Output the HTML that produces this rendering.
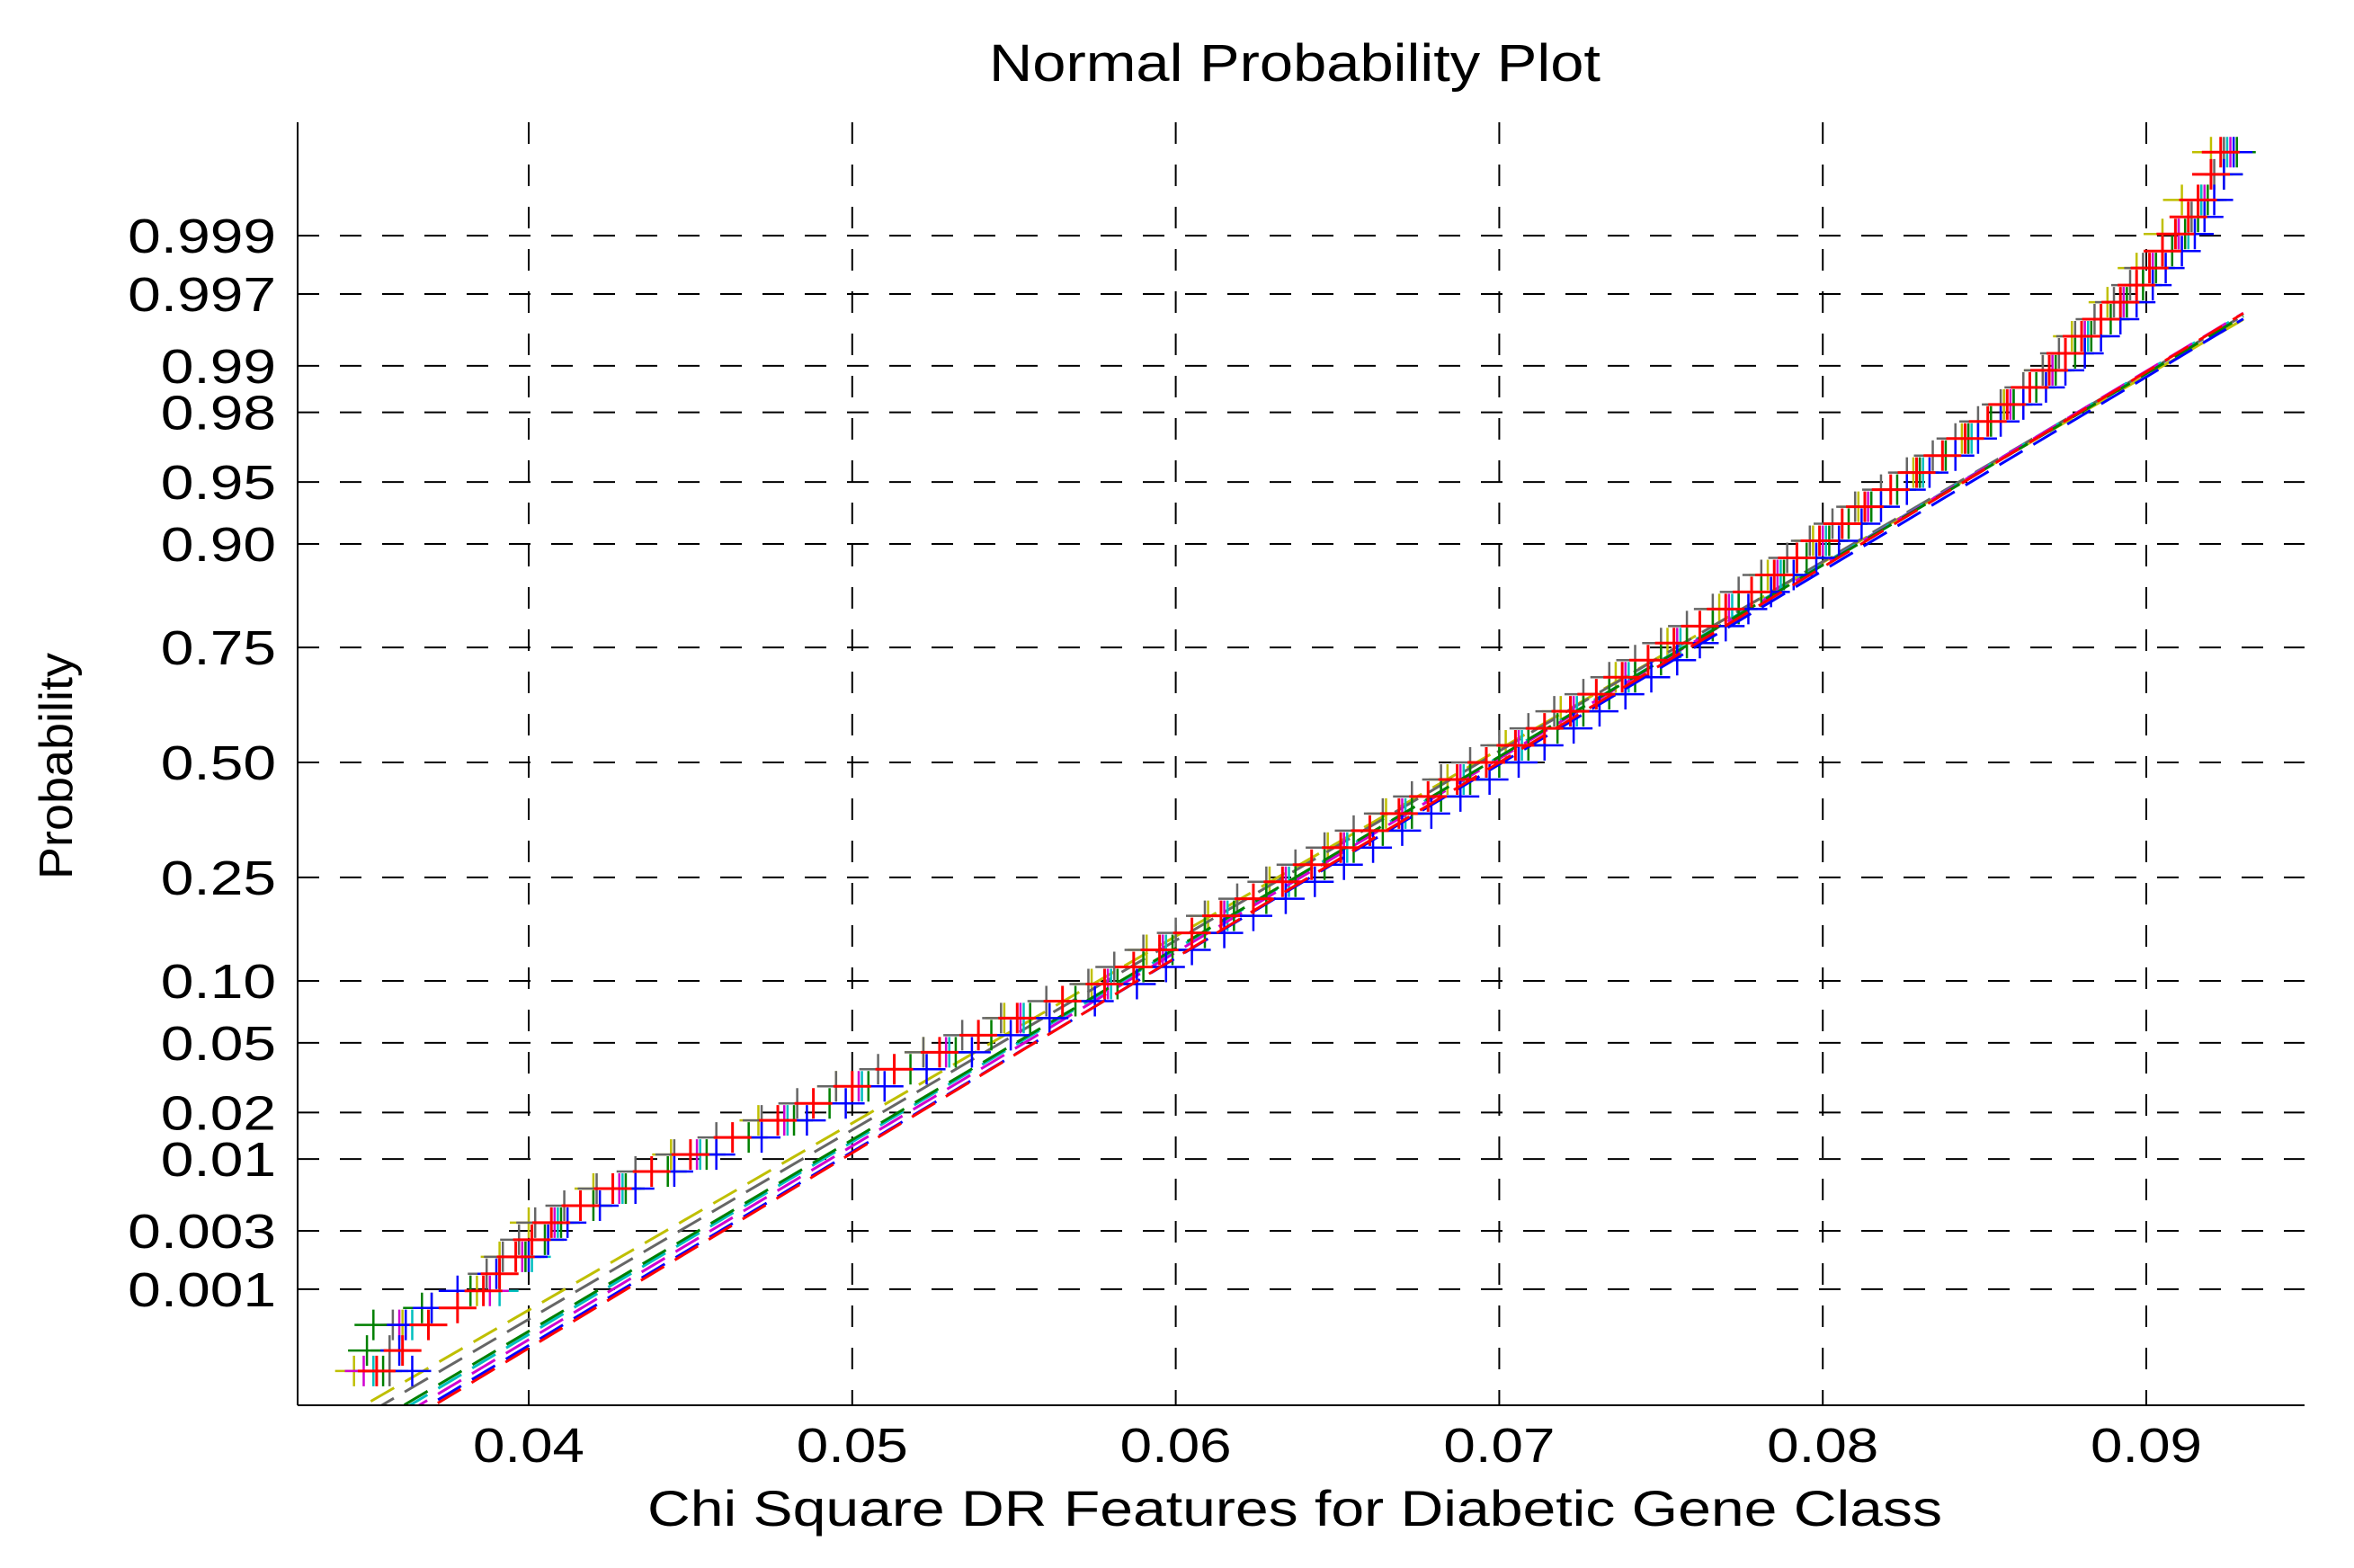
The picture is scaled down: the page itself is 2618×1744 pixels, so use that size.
<!DOCTYPE html>
<html><head><meta charset="utf-8"><style>
html,body{margin:0;padding:0;background:#fff}
svg{display:block}
text{font-family:"Liberation Sans",Arial,sans-serif;fill:#000}
</style></head><body>
<svg id="chart" width="2618" height="1744" viewBox="0 0 2618 1744" xmlns="http://www.w3.org/2000/svg">
<rect x="0" y="0" width="2618" height="1744" fill="#fff"/>
<text x="1440" y="90" font-size="58" text-anchor="middle" textLength="680" lengthAdjust="spacingAndGlyphs">Normal Probability Plot</text>
<text x="1440" y="1697" font-size="56" text-anchor="middle" textLength="1440" lengthAdjust="spacingAndGlyphs">Chi Square DR Features for Diabetic Gene Class</text>
<text x="0" y="0" font-size="52" text-anchor="middle" textLength="252" lengthAdjust="spacingAndGlyphs" transform="translate(80,852) rotate(-90)">Probability</text>
<g id="grid"></g>
<g id="ticks"></g>
<g id="plot"></g>
<g id="axes"></g>
</svg>
<script>
// ---- data ----
const xTicks = [0.04, 0.05, 0.06, 0.07, 0.08, 0.09];
const xTickLabels = ["0.04", "0.05", "0.06", "0.07", "0.08", "0.09"];
const yTicks = [0.001, 0.003, 0.01, 0.02, 0.05, 0.10, 0.25, 0.50, 0.75, 0.90, 0.95, 0.98, 0.99, 0.997, 0.999];
const yTickLabels = ["0.001", "0.003", "0.01", "0.02", "0.05", "0.10", "0.25", "0.50", "0.75", "0.90", "0.95", "0.98", "0.99", "0.997", "0.999"];
const quantileZ = [-3.57,-3.3,-3.1,-2.9,-2.7,-2.5,-2.3,-2.1,-1.9,-1.7,-1.5,-1.3,-1.1,-0.9,-0.7,-0.5,-0.3,-0.1,0.1,0.3,0.5,0.7,0.9,1.1,1.3,1.5,1.7,1.9,2.1,2.3,2.5,2.7,2.9,3.1,3.3,3.58];
const denseZ = [-3.57,-3.45,-3.3,-3.2,-3.1,-3.0,-2.9,-2.8,-2.7,-2.6,-2.5,-2.4,-2.3,-2.2,-2.1,-2.0,-1.9,-1.8,-1.7,-1.6,-1.5,-1.4,-1.3,-1.2,-1.1,-1.0,-0.9,-0.8,-0.7,-0.6,-0.5,-0.4,-0.3,-0.2,-0.1,0,0.1,0.2,0.3,0.4,0.5,0.6,0.7,0.8,0.9,1.0,1.1,1.2,1.3,1.4,1.5,1.6,1.7,1.8,1.9,2.0,2.1,2.2,2.3,2.4,2.5,2.6,2.7,2.8,2.9,3.0,3.1,3.2,3.3,3.45,3.58];
const seriesNames = ["yellow", "gray", "cyan", "magenta", "green", "blue", "red"];
const seriesColors = ["#bfbf00", "#666666", "#00bfbf", "#d000d0", "#008000", "#0000ff", "#ff0000"];
const yellowValues = [0.0346,0.0361,0.0384,0.0391,0.0400,0.0420,0.0444,0.0471,0.0495,0.0522,0.0547,0.0574,0.0591,0.0610,0.0629,0.0647,0.0665,0.0684,0.0702,0.0719,0.0736,0.0752,0.0768,0.0783,0.0797,0.0811,0.0828,0.0843,0.0856,0.0868,0.0877,0.0888,0.0897,0.0905,0.0911,0.0920];
const cyanValues = [0.0352,0.0364,0.0391,0.0401,0.0409,0.0429,0.0453,0.0480,0.0503,0.0530,0.0553,0.0580,0.0597,0.0616,0.0635,0.0653,0.0671,0.0689,0.0707,0.0724,0.0740,0.0756,0.0772,0.0787,0.0801,0.0815,0.0831,0.0846,0.0859,0.0871,0.0882,0.0893,0.0903,0.0913,0.0917,0.0925];
const magentaValues = [0.0349,0.0360,0.0388,0.0398,0.0408,0.0428,0.0452,0.0479,0.0502,0.0529,0.0552,0.0579,0.0596,0.0615,0.0634,0.0652,0.0670,0.0688,0.0706,0.0723,0.0739,0.0755,0.0771,0.0786,0.0800,0.0814,0.0830,0.0845,0.0858,0.0871,0.0881,0.0893,0.0902,0.0910,0.0918,0.0926];
const grayValues = [0.0357,0.0357,0.0358,0.0370,0.0382,0.0387,0.0392,0.0397,0.0402,0.0411,0.0421,0.0433,0.0445,0.0458,0.0472,0.0483,0.0495,0.0508,0.0522,0.0534,0.0546,0.0560,0.0573,0.0581,0.0590,0.0600,0.0609,0.0619,0.0628,0.0637,0.0646,0.0655,0.0664,0.0673,0.0682,0.0691,0.0700,0.0709,0.0717,0.0726,0.0734,0.0742,0.0750,0.0758,0.0766,0.0774,0.0781,0.0789,0.0796,0.0803,0.0810,0.0818,0.0826,0.0834,0.0841,0.0848,0.0855,0.0862,0.0868,0.0873,0.0878,0.0884,0.0890,0.0895,0.0899,0.0905,0.0910,0.0914,0.0917,0.0921,0.0924];
const greenValues = [0.0355,0.0350,0.0352,0.0367,0.0382,0.0391,0.0399,0.0405,0.0410,0.0420,0.0430,0.0443,0.0455,0.0468,0.0482,0.0493,0.0505,0.0518,0.0532,0.0543,0.0555,0.0569,0.0582,0.0590,0.0599,0.0609,0.0618,0.0628,0.0637,0.0646,0.0655,0.0664,0.0673,0.0682,0.0691,0.0700,0.0709,0.0718,0.0726,0.0734,0.0742,0.0750,0.0758,0.0766,0.0774,0.0781,0.0788,0.0795,0.0802,0.0808,0.0815,0.0823,0.0830,0.0838,0.0845,0.0852,0.0859,0.0866,0.0872,0.0878,0.0883,0.0889,0.0894,0.0899,0.0903,0.0908,0.0912,0.0916,0.0919,0.0924,0.0928];
const blueValues = [0.0364,0.0360,0.0362,0.0370,0.0378,0.0390,0.0400,0.0406,0.0412,0.0422,0.0433,0.0445,0.0458,0.0472,0.0486,0.0498,0.0510,0.0523,0.0537,0.0549,0.0561,0.0575,0.0588,0.0597,0.0605,0.0615,0.0624,0.0634,0.0643,0.0652,0.0661,0.0670,0.0679,0.0688,0.0697,0.0706,0.0714,0.0723,0.0731,0.0739,0.0747,0.0755,0.0762,0.0770,0.0777,0.0784,0.0791,0.0798,0.0805,0.0812,0.0818,0.0826,0.0833,0.0841,0.0848,0.0855,0.0862,0.0869,0.0875,0.0881,0.0886,0.0892,0.0897,0.0902,0.0906,0.0911,0.0915,0.0918,0.0921,0.0924,0.0927];
const redValues = [0.0353,0.0361,0.0369,0.0378,0.0386,0.0391,0.0396,0.0401,0.0407,0.0416,0.0426,0.0438,0.0450,0.0463,0.0477,0.0488,0.0500,0.0513,0.0527,0.0539,0.0551,0.0565,0.0578,0.0587,0.0595,0.0605,0.0614,0.0624,0.0633,0.0642,0.0651,0.0660,0.0669,0.0678,0.0687,0.0696,0.0705,0.0714,0.0722,0.0730,0.0738,0.0746,0.0754,0.0762,0.0770,0.0778,0.0785,0.0792,0.0799,0.0806,0.0813,0.0821,0.0829,0.0837,0.0844,0.0851,0.0857,0.0864,0.0870,0.0875,0.0880,0.0886,0.0892,0.0897,0.0901,0.0905,0.0909,0.0913,0.0916,0.0920,0.0923];
const refMeans = [0.0693, 0.0694, 0.0697, 0.0698, 0.0697, 0.0701, 0.0700];
const refSds = [0.00912, 0.00900, 0.00885, 0.00880, 0.00890, 0.00880, 0.00873];
const refMaxX = 0.0930;

// ---- axis functions ----
const PL = 331, PR = 2563, PT = 136, PB = 1563;
function xScale(v){ return 588 + (v - 0.04) * 35980; }
function yScaleZ(z){ return 848 - z * 189.6; }
function normInv(p){
  const a=[-39.69683028665376,220.9460984245205,-275.9285104469687,138.3577518672690,-30.66479806614716,2.506628277459239];
  const b=[-54.47609879822406,161.5858368580409,-155.6989798598866,66.80131188771972,-13.28068155288572];
  const c=[-0.007784894002430293,-0.3223964580411365,-2.400758277161838,-2.549732539343734,4.374664141464968,2.938163982698783];
  const d=[0.007784695709041462,0.3224671290700398,2.445134137142996,3.754408661907416];
  const pl=0.02425;
  let q,r;
  if(p<pl){q=Math.sqrt(-2*Math.log(p));return (((((c[0]*q+c[1])*q+c[2])*q+c[3])*q+c[4])*q+c[5])/((((d[0]*q+d[1])*q+d[2])*q+d[3])*q+1);}
  if(p>1-pl){q=Math.sqrt(-2*Math.log(1-p));return -(((((c[0]*q+c[1])*q+c[2])*q+c[3])*q+c[4])*q+c[5])/((((d[0]*q+d[1])*q+d[2])*q+d[3])*q+1);}
  q=p-0.5;r=q*q;
  return (((((a[0]*r+a[1])*r+a[2])*r+a[3])*r+a[4])*r+a[5])*q/(((((b[0]*r+b[1])*r+b[2])*r+b[3])*r+b[4])*r+1);
}
function yScaleP(p){ return yScaleZ(normInv(p)); }

const NS = "http://www.w3.org/2000/svg";
function mk(tag, attrs, parent){
  const e = document.createElementNS(NS, tag);
  for (const k in attrs) e.setAttribute(k, attrs[k]);
  parent.appendChild(e);
  return e;
}
const grid = document.getElementById('grid');
const ticks = document.getElementById('ticks');
const plot = document.getElementById('plot');
const axes = document.getElementById('axes');

xTicks.forEach((v, i) => {
  const x = xScale(v);
  const g = mk('line', {x1:x, y1:PT, x2:x, y2:PB, stroke:'#000', 'stroke-width':2, 'stroke-dasharray':'24 23'}, grid);
  
  
  const t = mk('text', {x:x, y:1626, 'font-size':54, 'text-anchor':'middle', textLength:124, lengthAdjust:'spacingAndGlyphs'}, ticks);
  t.textContent = xTickLabels[i];
  
  
});
yTicks.forEach((p, i) => {
  const y = yScaleP(p);
  const g = mk('line', {x1:PL, y1:y, x2:PR, y2:y, stroke:'#000', 'stroke-width':2, 'stroke-dasharray':'24 23'}, grid);
  
  
  const t = mk('text', {x:307, y:y + 19, 'font-size':54, 'text-anchor':'end'}, ticks);
  t.textContent = yTickLabels[i];
  
  
  const w = t.getComputedTextLength();
  if (w > 0) { t.setAttribute('textLength', w * 1.22); t.setAttribute('lengthAdjust', 'spacingAndGlyphs'); }
});

const defs = mk('defs', {}, document.getElementById('chart'));
const cp = mk('clipPath', {id:'clipPlot'}, defs);
mk('rect', {x:PL, y:PT - 40, width:PR - PL, height:PB - PT + 40}, cp);
plot.setAttribute('clip-path', 'url(#clipPlot)');

const allSeries = [yellowValues, grayValues, cyanValues, magentaValues, greenValues, blueValues, redValues];
const allZ = [quantileZ, denseZ, quantileZ, quantileZ, denseZ, denseZ, denseZ];
allSeries.forEach((vals, s) => {
  const col = seriesColors[s];
  const zs = allZ[s];
  const g = mk('g', {}, plot);
  
  
  const zLo = (0.0330 - refMeans[s]) / refSds[s];
  const zHi = (refMaxX - refMeans[s]) / refSds[s];
  const ln = mk('line', {x1:xScale(refMeans[s] + refSds[s]*zLo), y1:yScaleZ(zLo), x2:xScale(refMeans[s] + refSds[s]*zHi), y2:yScaleZ(zHi), stroke:col, 'stroke-width':3, 'stroke-dasharray':'30 14'}, g);
  
  
  const sw = seriesNames[s] === 'red' ? 3 : 2.5;
  vals.forEach((v, i) => {
    if (i >= zs.length) return;
    const x = xScale(v), y = yScaleZ(zs[i]);
    const m = mk('path', {d:'M' + (x-21) + ' ' + y + 'H' + (x+21) + 'M' + x + ' ' + (y-17) + 'V' + (y+17), stroke:col, 'stroke-width':sw, fill:'none'}, g);
    
    
  });
});

const ay = mk('line', {x1:PL, y1:PT, x2:PL, y2:PB, stroke:'#000', 'stroke-width':2}, axes);


const ax = mk('line', {x1:PL, y1:PB, x2:PR, y2:PB, stroke:'#000', 'stroke-width':2}, axes);


</script>
</body></html>
